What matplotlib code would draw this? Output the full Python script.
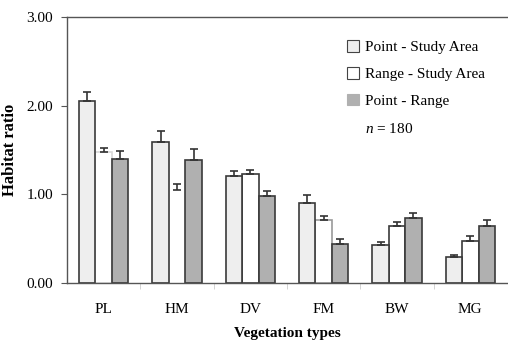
import numpy as np
import matplotlib
matplotlib.use('Agg')
import matplotlib.pyplot as plt
from matplotlib.patches import Patch

plt.rcParams['font.family'] = ['Liberation Serif', 'DejaVu Serif']
plt.rcParams['mathtext.fontset'] = 'custom'
plt.rcParams['mathtext.it'] = 'Liberation Serif:italic'
plt.rcParams['mathtext.rm'] = 'Liberation Serif'

categories = ['PL', 'HM', 'DV', 'FM', 'BW', 'MG']
point_study = [2.05, 1.59, 1.21, 0.90, 0.43, 0.29]
point_study_err = [0.10, 0.13, 0.06, 0.09, 0.03, 0.03]
range_study = [1.48, 1.05, 1.23, 0.71, 0.64, 0.48]
range_study_err = [0.04, 0.07, 0.05, 0.05, 0.05, 0.05]
point_range = [1.40, 1.39, 0.98, 0.44, 0.74, 0.64]
point_range_err = [0.09, 0.12, 0.06, 0.06, 0.05, 0.07]

fig = plt.figure(figsize=(5.08, 3.42), dpi=100)
ax = fig.add_axes([0.132, 0.172, 0.866, 0.778])

x = np.arange(len(categories))
w = 0.225
edge = '#3a3a3a'
range_edges = ['#d8d8d8', 'white', edge, '#9a9a9a', edge, edge]
ekw = dict(ecolor='#333333', elinewidth=1.2, capthick=1.2)

ax.bar(x, range_study, w, color='white', edgecolor=range_edges, linewidth=1.2,
       yerr=[np.zeros(6), range_study_err], capsize=3, error_kw=ekw, zorder=1)
ax.bar(x - w, point_study, w, color='#eeeeee', edgecolor=edge, linewidth=1.2,
       yerr=[np.zeros(6), point_study_err], capsize=3, error_kw=ekw, zorder=2)
ax.bar(x + w, point_range, w, color='#b0b0b0', edgecolor=edge, linewidth=1.2,
       yerr=[np.zeros(6), point_range_err], capsize=3, error_kw=ekw, zorder=2)

ax.set_xlim(-0.5, 5.5)
ax.set_ylim(0, 3)
ax.set_yticks([0, 1, 2, 3])
ax.set_yticklabels(['0.00', '1.00', '2.00', '3.00'], fontsize=11)
ax.set_xticks(x)
ax.set_xticklabels(categories, fontsize=11)
ax.set_xticks(np.arange(0.5, 5.5, 1), minor=True)
ax.tick_params(axis='x', which='major', length=0, pad=14)
ax.tick_params(axis='x', which='minor', length=4, color='#cccccc')
ax.tick_params(axis='y', length=4, color='#555555', pad=6)

for s in ['left', 'bottom', 'top']:
    ax.spines[s].set_color('#555555')
    ax.spines[s].set_linewidth(1.0)
ax.spines['right'].set_visible(False)

ax.set_ylabel('Habitat ratio', fontsize=12, fontweight='bold', labelpad=6)
ax.set_xlabel('Vegetation types', fontsize=11, fontweight='bold', labelpad=8)

handles = [Patch(facecolor='#eeeeee', edgecolor='#444444', linewidth=0.8),
           Patch(facecolor='white', edgecolor='#444444', linewidth=0.8),
           Patch(facecolor='#b0b0b0', edgecolor='#b0b0b0', linewidth=0.8)]
labels = ['Point - Study Area', 'Range - Study Area', 'Point - Range']
ax.legend(handles, labels, loc='upper left', bbox_to_anchor=(0.605, 0.965),
          frameon=False, fontsize=11, handlelength=0.8, handleheight=0.8,
          handletextpad=0.35, labelspacing=0.82)
ax.text(0.678, 0.58, r'$n$ = 180', transform=ax.transAxes, fontsize=11,
        va='center', ha='left')

fig.savefig('out.png', dpi=100)
